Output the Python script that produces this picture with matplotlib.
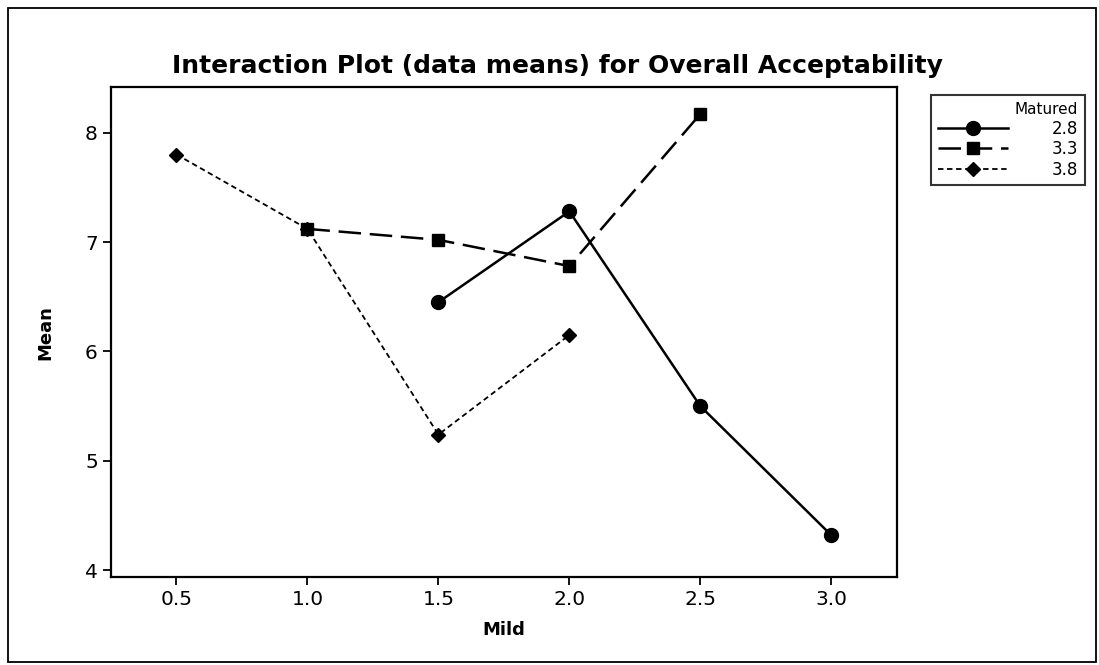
import matplotlib
matplotlib.use("Agg")
import matplotlib.pyplot as plt
from matplotlib.patches import Rectangle

# data means
mild = [0.5, 1.0, 1.5, 2.0, 2.5, 3.0]
x_28 = [1.5, 2.0, 2.5, 3.0]
y_28 = [6.45, 7.28, 5.50, 4.32]
x_33 = [1.0, 1.5, 2.0, 2.5]
y_33 = [7.12, 7.02, 6.78, 8.17]
x_38 = [0.5, 1.0, 1.5, 2.0]
y_38 = [7.80, 7.12, 5.24, 6.15]
yticks = [4, 5, 6, 7, 8]

fig = plt.figure(figsize=(10.99, 6.65), dpi=100)
ax = fig.add_axes([0.101, 0.132, 0.715, 0.737])

ax.plot(x_28, y_28, color='black', lw=1.8, ls='-', marker='o', ms=10, label='2.8')
ax.plot(x_33, y_33, color='black', lw=1.8, ls=(0, (9, 3.5)), marker='s', ms=9, label='3.3')
ax.plot(x_38, y_38, color='black', lw=1.3, ls=(0, (3, 2)), marker='D', ms=7.5, label='3.8')

ax.set_xlim(0.25, 3.25)
ax.set_ylim(3.936, 8.416)
ax.set_xticks(mild)
ax.set_xticklabels(['%.1f' % v for v in mild])
ax.set_yticks(yticks)
ax.tick_params(labelsize=14.5, width=1.3, length=6, direction='out')
for s in ax.spines.values():
    s.set_linewidth(1.6)

ax.set_xlabel('Mild', fontsize=13, fontweight='bold', labelpad=8)
ax.set_ylabel('Mean', fontsize=13, fontweight='bold', labelpad=22)
fig.text(0.507, 0.9, 'Interaction Plot (data means) for Overall Acceptability',
         ha='center', va='center', fontsize=18, fontweight='bold')

leg = fig.legend(loc='upper left', bbox_to_anchor=(0.840, 0.869), title='Matured',
                 alignment='right', fontsize=12, title_fontsize=11, frameon=True,
                 fancybox=False, edgecolor='black', handlelength=4.2,
                 handletextpad=2.6, borderpad=0.4, labelspacing=0.15)
leg.get_frame().set_linewidth(1.5)

fig.patches.append(Rectangle((0.007, 0.004), 0.99, 0.984, transform=fig.transFigure,
                             fill=False, edgecolor='black', lw=1.3))

fig.savefig('out.png', dpi=100)
